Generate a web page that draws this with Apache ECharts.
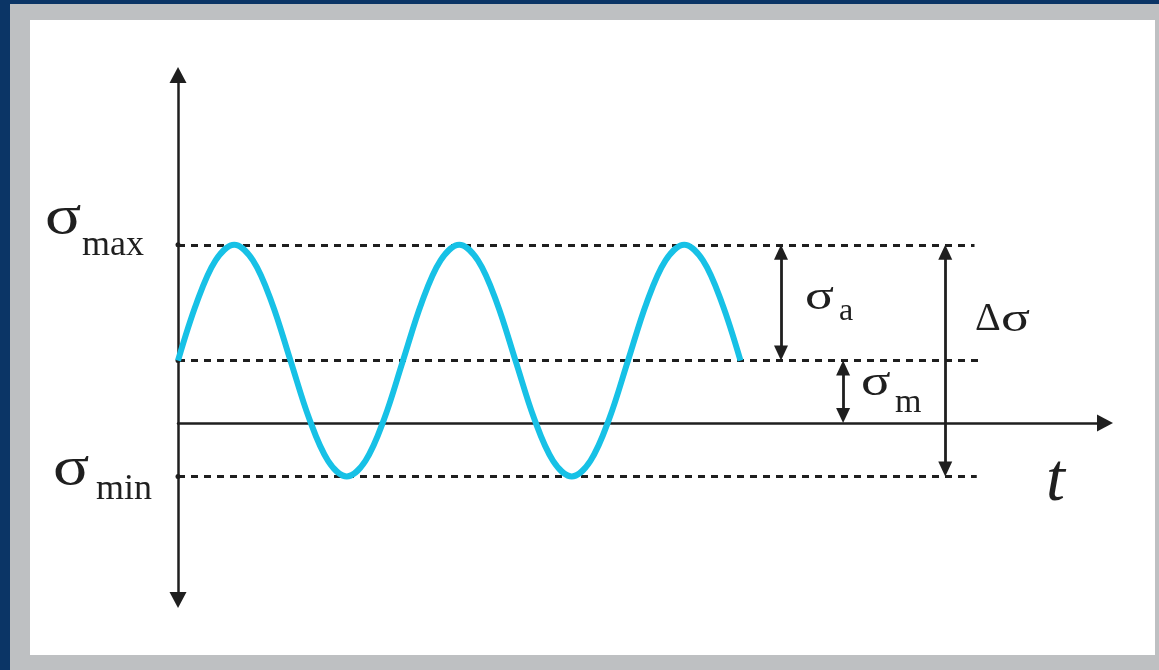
<!DOCTYPE html>
<html>
<head>
<meta charset="utf-8">
<script src="https://cdn.jsdelivr.net/npm/echarts@6/dist/echarts.min.js"></script>
<style>
html,body{margin:0;padding:0;background:#fff;}
#chart{width:1159px;height:670px;}
</style>
</head>
<body>
<div id="chart"></div>
<script>
// ---- data ----
const timeValues = [0,0.083,0.167,0.25,0.333,0.417,0.5,0.583,0.667,0.75,0.833,0.917,
  1.0,1.083,1.167,1.25,1.333,1.417,1.5,1.583,1.667,1.75,1.833,1.917,
  2.0,2.083,2.167,2.25,2.333,2.417,2.5];
const stressValues = [0.96,1.85,2.50,2.74,2.50,1.85,0.96,0.07,-0.58,-0.82,-0.58,0.07,
  0.96,1.85,2.50,2.74,2.50,1.85,0.96,0.07,-0.58,-0.82,-0.58,0.07,
  0.96,1.85,2.50,2.74,2.50,1.85,0.96];
const levelNames = ['max','mean','min'];
const levelValues = [2.74, 0.96, -0.82];
const levelEnds = [3.54, 3.58, 3.55];
const dimNames = ['amplitude','mean','range'];
const dimT = [2.68, 2.956, 3.41];
const dimFrom = [2.74, 0.96, 2.74];
const dimTo = [0.96, 0, -0.82];

const xMin = 0, xMax = 4.12, yMin = -2.72, yMax = 5.35;
const gridTop = 75, gridHeight = 525, gridLeft = 178, gridWidth = 927;

const ink = '#1f1f1f';
const serif = '"Liberation Serif","DejaVu Serif",serif';
const headLen = 15;
const pxPerY = gridHeight / (yMax - yMin);
const shrink = (headLen / 2) / pxPerY;

const chart = echarts.init(document.getElementById('chart'));

const guideLines = levelValues.map((v, i) => [
  {coord: [xMin, v]}, {coord: [levelEnds[i], v]}
]);
const dimLines = dimT.map((t, i) => {
  const dir = dimFrom[i] > dimTo[i] ? 1 : -1;
  return [{coord: [t, dimFrom[i] - dir * shrink]}, {coord: [t, dimTo[i] + dir * shrink]}];
});

function txt(x, y, s, font, sx) {
  return {
    type: 'text', z: 100, x: x, y: y, scaleX: sx || 1,
    style: {x: 0, y: 0, text: s, fill: ink, font: font, align: 'left', verticalAlign: 'middle'}
  };
}

chart.setOption({
  animation: false,
  backgroundColor: '#ffffff',
  grid: {left: gridLeft, top: gridTop, width: gridWidth, height: gridHeight},
  xAxis: {
    type: 'value', min: xMin, max: xMax,
    axisLine: {show: true, onZero: true, symbol: ['none', 'triangle'], symbolSize: [17, 16],
      lineStyle: {color: ink, width: 2.5}},
    axisTick: {show: false}, axisLabel: {show: false}, splitLine: {show: false}
  },
  yAxis: {
    type: 'value', min: yMin, max: yMax,
    axisLine: {show: true, symbol: ['triangle', 'triangle'], symbolSize: [17, 16],
      lineStyle: {color: ink, width: 2.5}},
    axisTick: {show: false}, axisLabel: {show: false}, splitLine: {show: false}
  },
  series: [
    {
      type: 'line', name: 'guides', data: [], silent: true,
      markLine: {
        silent: true, symbol: ['circle', 'none'], symbolSize: 5,
        label: {show: false},
        lineStyle: {color: ink, width: 3, type: [7, 6]},
        data: guideLines
      }
    },
    {
      type: 'line', name: 'dims', data: [], silent: true,
      markLine: {
        silent: true, symbol: ['triangle', 'triangle'], symbolSize: [14, headLen],
        label: {show: false},
        lineStyle: {color: ink, width: 2.8, type: 'solid'},
        data: dimLines
      }
    },
    {
      type: 'line', name: 'stress',
      data: timeValues.map((t, i) => [t, stressValues[i]]),
      smooth: 0.35, showSymbol: false, z: 5,
      lineStyle: {color: '#17c1e6', width: 6}
    }
  ],
  graphic: [
    {type: 'rect', z: -10, shape: {x: 0, y: 0, width: 1159, height: 670}, style: {fill: '#0b3566'}},
    {type: 'rect', z: -9, shape: {x: 10, y: 4, width: 1149, height: 666}, style: {fill: '#bec0c2'}},
    {type: 'rect', z: -8, shape: {x: 30, y: 20, width: 1125, height: 635}, style: {fill: '#ffffff'}},
    txt(45, 219, 'σ', '54px ' + serif, 1.25),
    txt(82, 246, 'max', '36px ' + serif),
    txt(53, 470, 'σ', '54px ' + serif, 1.25),
    txt(96, 490, 'min', '36px ' + serif),
    txt(805, 298, 'σ', '43px ' + serif, 1.25),
    txt(839, 312, 'a', '32px ' + serif),
    txt(861, 383, 'σ', '44px ' + serif, 1.25),
    txt(895, 403, 'm', '34px ' + serif),
    txt(975, 319, 'Δ', '40px ' + serif),
    txt(1001, 320, 'σ', '40px ' + serif, 1.35),
    txt(1046, 482, 't', 'italic 68px ' + serif)
  ]
});
</script>
</body>
</html>
